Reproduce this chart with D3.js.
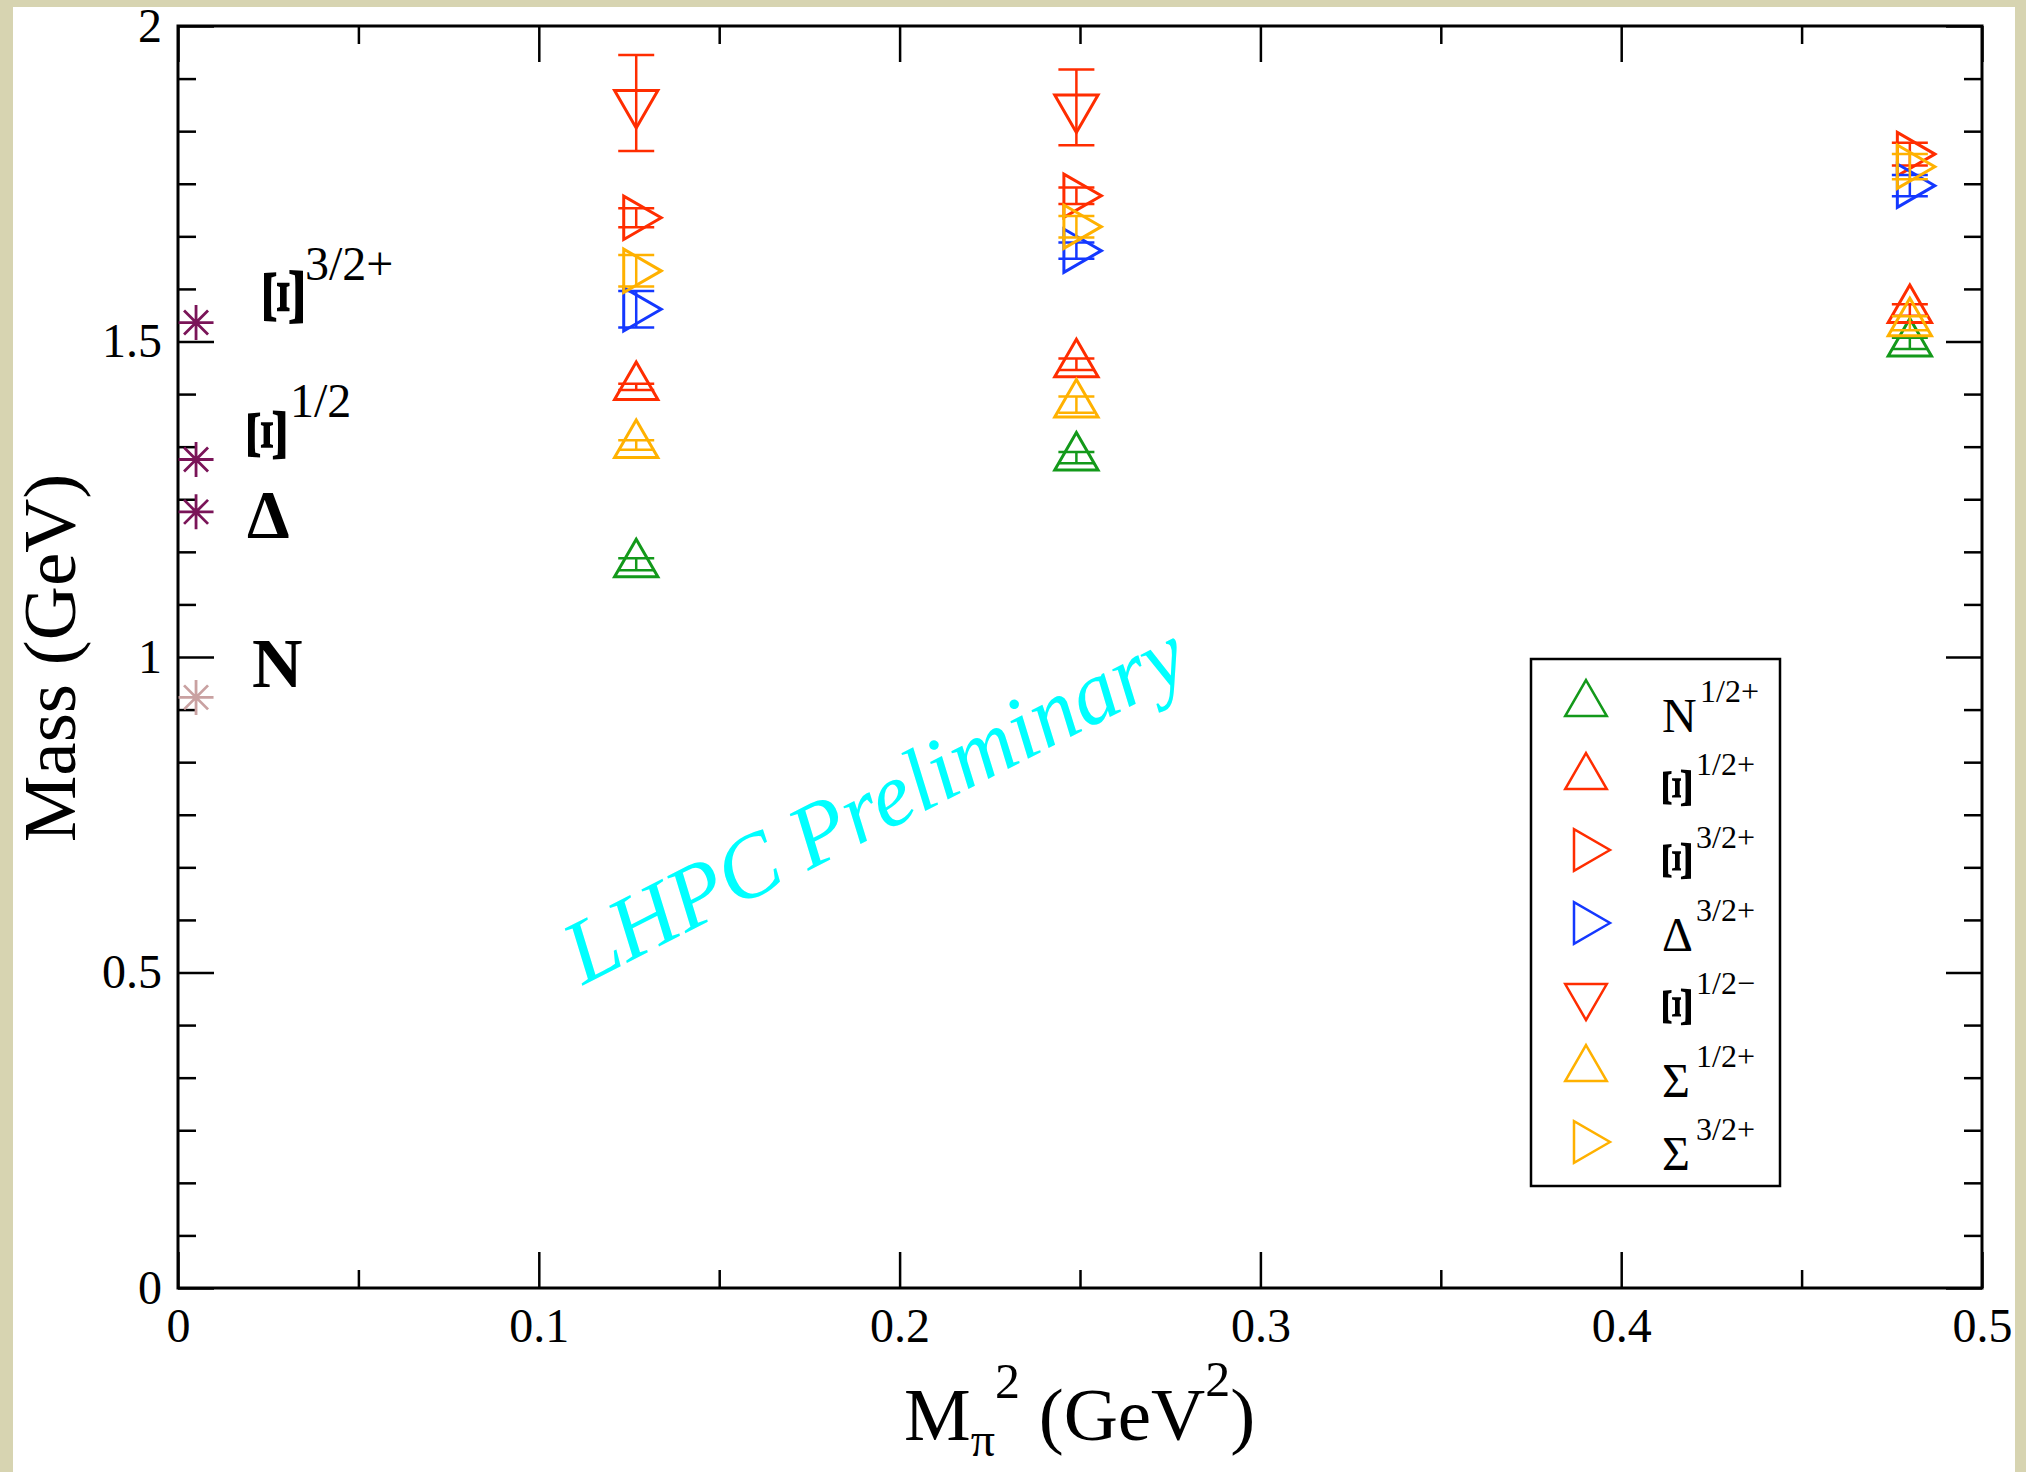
<!DOCTYPE html>
<html>
<head>
<meta charset="utf-8">
<script src="https://cdn.jsdelivr.net/npm/d3@7"></script>
<style>
  html, body { margin: 0; padding: 0; background: #d7d4b1; }
  svg { display: block; }
</style>
</head>
<body>
<div id="chart"></div>
<script>
// ---------------- data ----------------
const mpi2 = [0.127, 0.249, 0.480];                 // M_pi^2 (GeV^2)

const nucleonHalfPlus      = [1.147, 1.316, 1.497];
const nucleonHalfPlusErr   = [0.0095, 0.009, 0.009];
const xiHalfPlus           = [1.428, 1.464, 1.550];
const xiHalfPlusErr        = [0.005, 0.009, 0.009];
const xiThreeHalfPlus      = [1.696, 1.731, 1.797];
const xiThreeHalfPlusErr   = [0.015, 0.013, 0.018];
const deltaThreeHalfPlus   = [1.551, 1.644, 1.747];
const deltaThreeHalfPlusErr= [0.029, 0.013, 0.017];
const xiHalfMinus          = [1.878, 1.871, null];
const xiHalfMinusErr       = [0.076, 0.060, null];
const sigmaHalfPlus        = [1.336, 1.400, 1.529];
const sigmaHalfPlusErr     = [0.0075, 0.013, 0.011];
const sigmaThreeHalfPlus   = [1.612, 1.682, 1.777];
const sigmaThreeHalfPlusErr= [0.025, 0.017, 0.020];

const legendBase   = ["N", "Ξ", "Ξ", "Δ", "Ξ", "Σ", "Σ"];
const legendSup    = ["1/2+", "1/2+", "3/2+", "3/2+", "1/2−", "1/2+", "3/2+"];
const seriesColors = ["#13991a", "#ff2d00", "#ff2d00", "#1438ff", "#ff2d00", "#ffb100", "#ffb100"];
const seriesShapes = ["up", "up", "right", "right", "down", "up", "right"];

// experimental masses (stars)
const expX       = 0.005;
const expMasses  = [0.936, 1.230, 1.313, 1.530];
const expColors  = ["#c9a1a1", "#7a1458", "#7a1458", "#7a1458"];

const xTickValues = [0, 0.1, 0.2, 0.3, 0.4, 0.5];
const xTickLabels = ["0", "0.1", "0.2", "0.3", "0.4", "0.5"];
const yTickValues = [0, 0.5, 1, 1.5, 2];
const yTickLabels = ["0", "0.5", "1", "1.5", "2"];

const seriesValues = [nucleonHalfPlus, xiHalfPlus, xiThreeHalfPlus, deltaThreeHalfPlus,
                      xiHalfMinus, sigmaHalfPlus, sigmaThreeHalfPlus];
const seriesErrors = [nucleonHalfPlusErr, xiHalfPlusErr, xiThreeHalfPlusErr, deltaThreeHalfPlusErr,
                      xiHalfMinusErr, sigmaHalfPlusErr, sigmaThreeHalfPlusErr];

// ---------------- drawing ----------------
const W = 2026, H = 1472;
const FONT = "'Liberation Serif', 'Times New Roman', serif";
const svg = d3.select("#chart").append("svg").attr("width", W).attr("height", H);

svg.append("rect").attr("x", 0).attr("y", 0).attr("width", W).attr("height", H).attr("fill", "#d7d4b1");
svg.append("rect").attr("x", 13).attr("y", 7).attr("width", 2002).attr("height", H - 7).attr("fill", "#ffffff");

const x = d3.scaleLinear().domain([0, 0.5]).range([178, 1982]);
const y = d3.scaleLinear().domain([0, 2]).range([1288, 26]);

const xMinor = d3.range(0.05, 0.5, 0.1);
const yMinor = d3.range(1, 24).filter(k => k % 6 !== 0).map(k => k * 0.5 / 6);

function styleAxis(g, size) {
  g.select(".domain").remove();
  g.selectAll(".tick line").attr("stroke", "#000").attr("stroke-width", 2.5);
  g.selectAll(".tick text").attr("font-family", FONT).attr("font-size", size).attr("fill", "#000");
}

// bottom
svg.append("g").attr("transform", `translate(0,${y(0)})`)
  .call(d3.axisBottom(x).tickValues(xTickValues).tickSizeInner(-36).tickSizeOuter(0)
        .tickPadding(20).tickFormat((d, i) => xTickLabels[i]))
  .call(g => styleAxis(g, 48));
svg.append("g").attr("transform", `translate(0,${y(0)})`)
  .call(d3.axisBottom(x).tickValues(xMinor).tickSizeInner(-18).tickSizeOuter(0).tickFormat(""))
  .call(g => styleAxis(g, 48));
// top
svg.append("g").attr("transform", `translate(0,${y(2)})`)
  .call(d3.axisTop(x).tickValues(xTickValues).tickSizeInner(-36).tickSizeOuter(0).tickFormat(""))
  .call(g => styleAxis(g, 48));
svg.append("g").attr("transform", `translate(0,${y(2)})`)
  .call(d3.axisTop(x).tickValues(xMinor).tickSizeInner(-18).tickSizeOuter(0).tickFormat(""))
  .call(g => styleAxis(g, 48));
// left
svg.append("g").attr("transform", `translate(${x(0)},0)`)
  .call(d3.axisLeft(y).tickValues(yTickValues).tickSizeInner(-36).tickSizeOuter(0)
        .tickPadding(16).tickFormat((d, i) => yTickLabels[i]))
  .call(g => styleAxis(g, 48));
svg.append("g").attr("transform", `translate(${x(0)},0)`)
  .call(d3.axisLeft(y).tickValues(yMinor).tickSizeInner(-18).tickSizeOuter(0).tickFormat(""))
  .call(g => styleAxis(g, 48));
// right
svg.append("g").attr("transform", `translate(${x(0.5)},0)`)
  .call(d3.axisRight(y).tickValues(yTickValues).tickSizeInner(-36).tickSizeOuter(0).tickFormat(""))
  .call(g => styleAxis(g, 48));
svg.append("g").attr("transform", `translate(${x(0.5)},0)`)
  .call(d3.axisRight(y).tickValues(yMinor).tickSizeInner(-18).tickSizeOuter(0).tickFormat(""))
  .call(g => styleAxis(g, 48));

// frame
svg.append("rect").attr("x", x(0)).attr("y", y(2)).attr("width", x(0.5) - x(0)).attr("height", y(0) - y(2))
  .attr("fill", "none").attr("stroke", "#000").attr("stroke-width", 3);

// axis titles
svg.append("text").attr("transform", `translate(75,658) rotate(-90)`)
  .attr("text-anchor", "middle").attr("font-family", FONT).attr("font-size", 75).attr("fill", "#000")
  .text("Mass (GeV)");

const xt = svg.append("text").attr("x", 904).attr("y", 1440)
  .attr("font-family", FONT).attr("font-size", 75).attr("fill", "#000");
xt.append("tspan").text("M");
xt.append("tspan").attr("font-size", 48).attr("dy", 16).text("π");
xt.append("tspan").attr("font-size", 50).attr("dy", -58).text("2");
xt.append("tspan").attr("font-size", 75).attr("dy", 42).text("\u00a0(GeV");
xt.append("tspan").attr("font-size", 50).attr("dy", -44).text("2");
xt.append("tspan").attr("font-size", 75).attr("dy", 44).text(")");

// watermark
svg.append("text").attr("transform", "translate(888,830) rotate(-27)")
  .attr("text-anchor", "middle").attr("font-family", FONT).attr("font-style", "italic")
  .attr("font-size", 90).attr("fill", "#00ffff").text("LHPC Preliminary");

// symbol paths (centroid-centred triangles)
const S60 = Math.sin(Math.PI / 3);
function triPath(shape, R) {
  let pts;
  if (shape === "up") pts = [[0, -R], [R * S60, R / 2], [-R * S60, R / 2]];
  else if (shape === "down") pts = [[0, R], [R * S60, -R / 2], [-R * S60, -R / 2]];
  else pts = [[R, 0], [-R / 2, R * S60], [-R / 2, -R * S60]];
  return "M" + pts.map(p => p.join(",")).join("L") + "Z";
}

// data series
const plot = svg.append("g");
seriesValues.forEach((vals, si) => {
  const color = seriesColors[si];
  const g = plot.append("g");
  vals.forEach((v, i) => {
    if (v === null) return;
    const e = seriesErrors[si][i];
    const cx = x(mpi2[i]), cy = y(v);
    const yt = y(v + e), yb = y(v - e);
    g.append("line").attr("x1", cx).attr("x2", cx).attr("y1", yt).attr("y2", yb)
      .attr("stroke", color).attr("stroke-width", 2.5);
    [yt, yb].forEach(yy => g.append("line").attr("x1", cx - 18).attr("x2", cx + 18)
      .attr("y1", yy).attr("y2", yy).attr("stroke", color).attr("stroke-width", 2.5));
    g.append("path").attr("transform", `translate(${cx},${cy})`).attr("d", triPath(seriesShapes[si], 25))
      .attr("fill", "none").attr("stroke", color).attr("stroke-width", 3).attr("stroke-linejoin", "miter");
  });
});

// experimental stars
expMasses.forEach((m, i) => {
  const cx = x(expX), cy = y(m), r = 17.5, d = 12;
  const path = `M${-r},0L${r},0M0,${-r}L0,${r}M${-d},${-d}L${d},${d}M${-d},${d}L${d},${-d}`;
  svg.append("path").attr("transform", `translate(${cx},${cy})`).attr("d", path)
    .attr("stroke", expColors[i]).attr("stroke-width", 2.8).attr("fill", "none");
});

// experimental labels
function rotXi(g, cx, cy, size, stretch) {
  g.append("text").attr("transform", `translate(${cx},${cy}) rotate(-90) scale(${stretch},1)`)
    .attr("text-anchor", "middle").attr("dominant-baseline", "central")
    .attr("font-family", FONT).attr("font-weight", "bold").attr("font-size", size).attr("fill", "#000")
    .text("Ξ");
}
const lab = svg.append("g");
rotXi(lab, 283, 297, 60, 1.55);
lab.append("text").attr("x", 305).attr("y", 280).attr("font-family", FONT).attr("font-size", 48).text("3/2+");
rotXi(lab, 267, 435, 58, 1.45);
lab.append("text").attr("x", 290).attr("y", 417).attr("font-family", FONT).attr("font-size", 48).text("1/2");
lab.append("text").attr("x", 247).attr("y", 537).attr("font-family", FONT).attr("font-weight", "bold")
  .attr("font-size", 68).text("Δ");
lab.append("text").attr("x", 252).attr("y", 687).attr("font-family", FONT).attr("font-weight", "bold")
  .attr("font-size", 70).text("N");

// legend
const lg = svg.append("g");
lg.append("rect").attr("x", 1531).attr("y", 659).attr("width", 249).attr("height", 527)
  .attr("fill", "#fff").attr("stroke", "#000").attr("stroke-width", 2.5);
legendBase.forEach((b, i) => {
  const cy = 704 + i * 73;
  lg.append("path").attr("transform", `translate(1586,${cy})`).attr("d", triPath(seriesShapes[i], 24))
    .attr("fill", "none").attr("stroke", seriesColors[i]).attr("stroke-width", 2.5);
  if (b === "Ξ") {
    rotXi(lg, 1677, cy + 11, 42, 1.5);
  } else {
    lg.append("text").attr("x", 1662).attr("y", cy + 27.5).attr("font-family", FONT)
      .attr("font-size", 48).attr("fill", "#000").text(b);
  }
  lg.append("text").attr("x", b === "N" ? 1700 : 1696).attr("y", cy - 2).attr("font-family", FONT)
    .attr("font-size", 32).attr("fill", "#000").text(legendSup[i]);
});
</script>
</body>
</html>
